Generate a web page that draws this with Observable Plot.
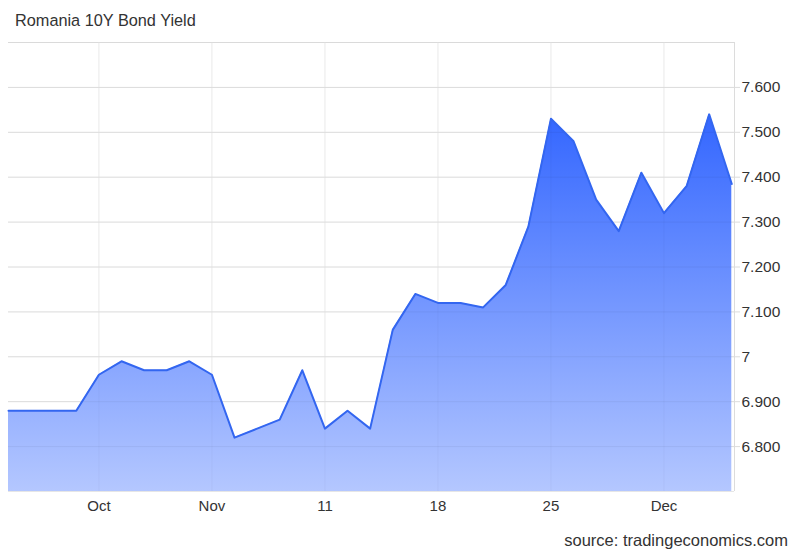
<!DOCTYPE html>
<html>
<head>
<meta charset="utf-8">
<script src="https://cdn.jsdelivr.net/npm/d3@7"></script>
<script src="https://cdn.jsdelivr.net/npm/@observablehq/plot@0.6"></script>
<style>
  html, body { margin: 0; padding: 0; background: #fff; }
  #wrap { position: relative; width: 800px; height: 554px; font-family: "Liberation Sans", Arial, Helvetica, sans-serif; color: #333; }
  #title { height: 30px; line-height: 41px; padding-left: 15px; font-size: 16.3px; color: #333; box-sizing: border-box; }
  #source { position: absolute; right: 12px; top: 531px; font-size: 16.5px; color: #333; }
  svg { display: block; }
</style>
</head>
<body>
<div id="wrap">
  <div id="title">Romania 10Y Bond Yield</div>
  <div id="chart"></div>
  <div id="source">source: tradingeconomics.com</div>
</div>
<script>
// Trading days (weekdays only)
const dates = [
  "2024-10-22","2024-10-23","2024-10-24","2024-10-25",
  "2024-10-28","2024-10-29","2024-10-30","2024-10-31","2024-11-01",
  "2024-11-04","2024-11-05","2024-11-06","2024-11-07","2024-11-08",
  "2024-11-11","2024-11-12","2024-11-13","2024-11-14","2024-11-15",
  "2024-11-18","2024-11-19","2024-11-20","2024-11-21","2024-11-22",
  "2024-11-25","2024-11-26","2024-11-27","2024-11-28","2024-11-29",
  "2024-12-02","2024-12-03","2024-12-04","2024-12-05"
];
const yields = [
  6.88, 6.88, 6.88, 6.88,
  6.96, 6.99, 6.97, 6.97, 6.99,
  6.96, 6.82, 6.84, 6.86, 6.97,
  6.84, 6.88, 6.84, 7.06, 7.14,
  7.12, 7.12, 7.11, 7.16, 7.29,
  7.53, 7.48, 7.35, 7.28, 7.41,
  7.32, 7.38, 7.54, 7.385
];
const xTickDates = ["2024-10-28","2024-11-04","2024-11-11","2024-11-18","2024-11-25","2024-12-02"];
const xTickLabels = ["Oct","Nov","11","18","25","Dec"];
const yTicks = [6.8, 6.9, 7.0, 7.1, 7.2, 7.3, 7.4, 7.5, 7.6];
const yGridTicks = [6.8, 6.9, 7.0, 7.1, 7.2, 7.3, 7.4, 7.5, 7.6, 7.7];
const yDomain = [6.7, 7.7];

const data = dates.map((d, i) => ({i, date: d, v: yields[i]}));
const xTickIdx = xTickDates.map(d => dates.indexOf(d));
const xMax = dates.length - 1 + 0.12;

const defs = () => {
  const ns = "http://www.w3.org/2000/svg";
  const el = document.createElementNS(ns, "defs");
  el.innerHTML = `<linearGradient id="areaGrad" x1="0" y1="0" x2="0" y2="1">
      <stop offset="0" stop-color="#3366ff"/>
      <stop offset="1" stop-color="#b4c7ff"/>
    </linearGradient>`;
  return el;
};

const chart = Plot.plot({
  width: 800,
  height: 490,
  marginTop: 12,
  marginBottom: 29,
  marginLeft: 8,
  marginRight: 66,
  x: {domain: [0, xMax], label: null},
  y: {domain: yDomain, label: null},
  style: {fontFamily: '"Liberation Sans", Arial, Helvetica, sans-serif', fontSize: "14px", color: "#333", background: "#fff"},
  marks: [
    defs,
    Plot.gridY(yGridTicks, {stroke: "#e6e6e6", strokeOpacity: 1}),
    Plot.gridX(xTickIdx, {stroke: "#f0f0f0", strokeOpacity: 1}),
    Plot.areaY(data, {x: "i", y1: () => yDomain[0], y2: "v", fill: "url(#areaGrad)"}),
    Plot.gridY(yGridTicks, {stroke: "#000", strokeOpacity: 0.05}),
    Plot.gridX(xTickIdx, {stroke: "#000", strokeOpacity: 0.03}),
    Plot.lineY(data, {x: "i", y: "v", stroke: "#3366f0", strokeWidth: 2}),
    Plot.ruleX([xMax], {stroke: "#dcdcdc"}),
    Plot.ruleY([yDomain[0]], {stroke: "#e6e6e6"}),
    Plot.axisY(yTicks, {
      anchor: "right", tickSize: 5, tickPadding: 2, stroke: "#dcdcdc",
      tickFormat: d => d === 7 ? "7" : d.toFixed(3),
      fill: "#333", fontSize: 15.5, label: null
    }),
    Plot.axisX(xTickIdx, {
      tickSize: 0, tickPadding: 9,
      tickFormat: (d) => xTickLabels[xTickIdx.indexOf(d)],
      fill: "#333", fontSize: 15, label: null
    })
  ]
});
document.getElementById("chart").appendChild(chart);
</script>
</body>
</html>
